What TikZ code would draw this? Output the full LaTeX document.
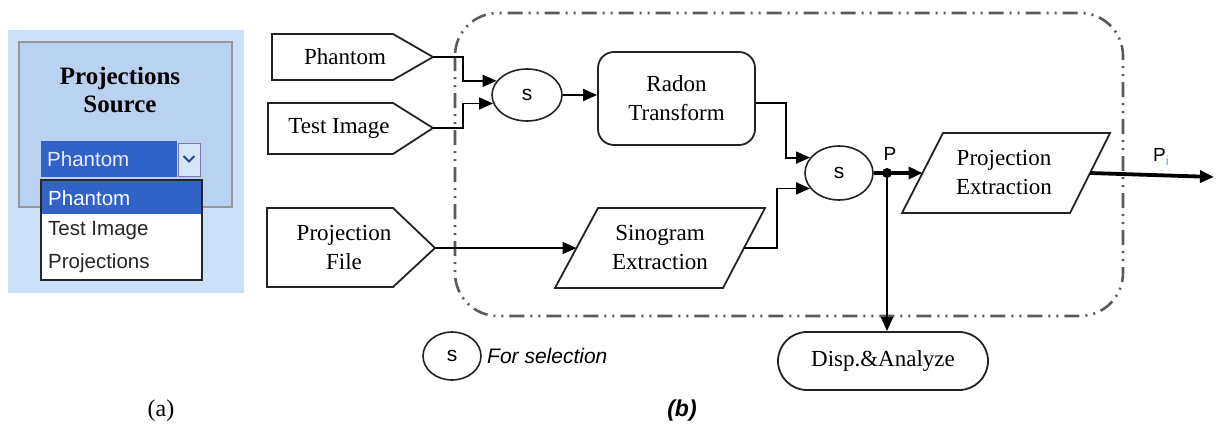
\documentclass[tikz,border=0pt]{standalone}
\usepackage{fontspec}
\setmainfont{Liberation Serif}
\newfontfamily\sansf{Liberation Sans}
\usetikzlibrary{arrows.meta,shapes.geometric}
\definecolor{outerblue}{RGB}{204,224,248}
\definecolor{innerblue}{RGB}{186,210,241}
\definecolor{selblue}{RGB}{49,98,200}
\definecolor{framegray}{RGB}{150,150,150}
\definecolor{linegray}{RGB}{35,35,35}
\definecolor{dashgray}{RGB}{90,90,90}
\definecolor{btnblue}{RGB}{214,230,250}
\definecolor{chevblue}{RGB}{40,70,140}
\definecolor{subblue}{RGB}{100,160,220}
\begin{document}
\begin{tikzpicture}[x=1pt,y=-1pt,
  boxline/.style={draw=linegray, line width=1.8pt, line join=miter},
  lbl/.style={font=\fontsize{23}{29}\selectfont, align=center, inner sep=0pt},
  conn/.style={draw=black, line width=1.8pt, -{Triangle[length=14pt,width=12pt]}},
  thickconn/.style={draw=black, line width=3.8pt, -{Triangle[length=14pt,width=12pt]}},
  selnode/.style={ellipse, draw=linegray, line width=1.6pt, inner sep=0pt,
    font=\sansf\fontsize{21}{24}\selectfont},
  itemtxt/.style={anchor=west, inner sep=0pt, font=\sansf\fontsize{20.5}{24}\selectfont},
  boundary/.style={draw=dashgray, line width=2.6pt,
    dash pattern=on 15pt off 6pt on 2pt off 6pt on 2pt off 6pt}
]
\useasboundingbox (0,0) rectangle (1218,426);

% ---------------- panel (a) ----------------
\fill[outerblue] (8,30) rectangle (244,293);
\draw[framegray, fill=innerblue, line width=1.2pt] (19,42) rectangle (232,207);
\node[font=\bfseries\fontsize{25}{28}\selectfont, align=center, inner sep=0pt]
  (srctitle) at (120,90) {Projections\\Source};
\fill[selblue] (41,141) rectangle (177,177);
\node[itemtxt, text=white!92!blue] (cursel) at (47,159) {Phantom};
\draw[draw=framegray!80!blue, fill=btnblue, line width=1pt] (178,143) rectangle (200,176);
\draw[chevblue, line width=1.8pt] (183.5,156) -- (189,161.5) -- (194.5,156);
\draw[draw=black!85, fill=white, line width=1.3pt] (41,180) rectangle (202,280);
\fill[selblue] (42.3,181.3) rectangle (200.7,214);
\node[itemtxt, text=white] (itemA) at (48,198) {Phantom};
\node[itemtxt, text=black!85] (itemB) at (48,231) {Test Image};
\node[itemtxt, text=black!85] (itemC) at (48,263) {Projections};
\node[font=\fontsize{24}{26}\selectfont, inner sep=0pt] (capa) at (161,411) {(a)};

% ---------------- panel (b) ----------------
% dash-dot-dot boundary
\draw[boundary, rounded corners=43pt] (455,13) rectangle (1123,316);

% input tags
\draw[boxline] (272,34) -- (393,34) -- (433,57) coordinate (phtip) -- (393,80) -- (272,80) -- cycle;
\node[lbl] (phantom) at (345,57) {Phantom};
\draw[boxline] (268,103) -- (393,103) -- (433,128) coordinate (titip) -- (393,154) -- (268,154) -- cycle;
\node[lbl] (testimg) at (339,128) {Test Image};
\draw[boxline] (267,208) -- (393,208) -- (435,248) coordinate (pftip) -- (393,287) -- (267,287) -- cycle;
\node[lbl] (projfile) at (344,247) {Projection\\File};

% selectors
\node[selnode, minimum width=70pt, minimum height=52pt] (s1) at (527,95) {s};
\node[selnode, minimum width=68pt, minimum height=54pt] (s2) at (839,173) {s};

% Radon transform
\node[boxline, rectangle, rounded corners=16pt, minimum width=157pt, minimum height=93pt,
  lbl] (radon) at (676.5,98.5) {Radon\\Transform};

% Sinogram extraction (parallelogram)
\draw[boxline] (598,208) -- (765,208) -- (744,248) coordinate (sinoE) -- (723,288)
  -- (555,288) -- (576.5,248) coordinate (sinoW) -- cycle;
\node[lbl] (sino) at (660,247) {Sinogram\\Extraction};

% Projection extraction (parallelogram)
\draw[boxline] (943,133) -- (1110,133) -- (1090,173) coordinate (peE) -- (1070,213)
  -- (902,213) -- (922.5,173) coordinate (peW) -- cycle;
\node[lbl] (projext) at (1004,172) {Projection\\Extraction};

% Display & analyze
\node[boxline, rectangle, rounded corners=29pt, minimum width=210pt, minimum height=58pt,
  lbl] (disp) at (883,361) {Disp.\&Analyze};

% connectors
\draw[conn] (phtip) -- ++(30,0) |- (s1.155);
\draw[conn] (titip) -- ++(30,0) |- (s1.194);
\draw[conn] (s1.east) -- (s1.east -| radon.west);
\draw[conn] ([yshift=-4.5pt]radon.east) -- ++(30,0) |- (s2.152);
\draw[conn] (pftip) -- (sinoW);
\draw[conn] (sinoE) -- ++(33,0) |- (s2.208);
\coordinate (pdot) at (887,173);
\draw[thickconn] (s2.east) -- (peW);
\fill[black] (pdot) circle (5pt);
\draw[conn] (pdot) -- (pdot |- disp.north);
\coordinate (outend) at (1214,177);
\draw[thickconn] (peE) -- (outend);
\node[font=\sansf\fontsize{19}{20}\selectfont, inner sep=0pt] (plabel) at (890,154) {P};
\node[font=\sansf\fontsize{19}{20}\selectfont, inner sep=0pt] (pilabel) at (1161,157)
  {P\raisebox{-4pt}{\textcolor{subblue}{\fontsize{13}{13}\selectfont i}}};

% legend
\node[selnode, minimum width=58pt, minimum height=48pt] (legs) at (452,356) {s};
\node[anchor=west, inner sep=0pt, font=\sansf\itshape\fontsize{21}{24}\selectfont]
  (legtxt) at (487,356) {For selection};
\node[font=\sansf\bfseries\itshape\fontsize{23}{26}\selectfont, inner sep=0pt]
  (capb) at (682,411) {(b)};
\end{tikzpicture}
\end{document}
